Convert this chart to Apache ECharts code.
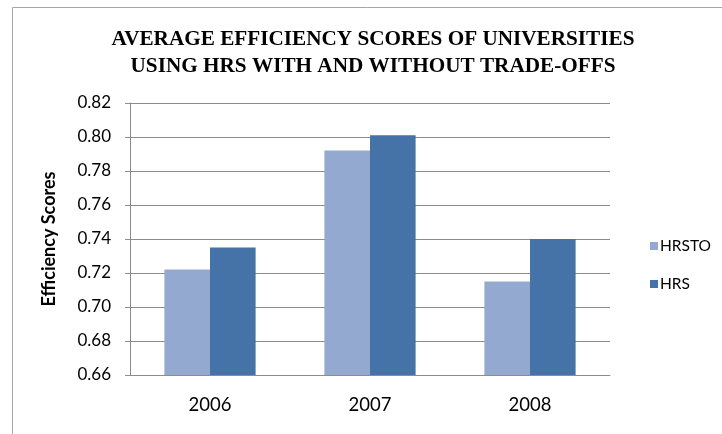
<!DOCTYPE html>
<html>
<head>
<meta charset="utf-8">
<script src="https://cdn.jsdelivr.net/npm/echarts@6/dist/echarts.min.js"></script>
<style>
  html, body { margin: 0; padding: 0; background: #fff; }
  #chart { width: 722px; height: 434px; }
</style>
</head>
<body>
<div id="chart"></div>
<script>
// Average efficiency scores per year, with and without trade-offs
const years = ['2006', '2007', '2008'];
const hrstoScores = [0.722, 0.792, 0.715];
const hrsScores = [0.735, 0.801, 0.740];
const seriesNames = ['HRSTO', 'HRS'];
const titleLines = ['AVERAGE EFFICIENCY SCORES OF UNIVERSITIES', 'USING HRS WITH AND WITHOUT TRADE-OFFS'];

const chart = echarts.init(document.getElementById('chart'), null, { renderer: 'canvas' });

const option = {
  animation: false,
  backgroundColor: '#ffffff',
  graphic: [
    {
      type: 'rect',
      silent: true,
      shape: { x: 12.5, y: 7.5, width: 900, height: 900 },
      style: { fill: 'none', stroke: '#a6a6a6', lineWidth: 1 }
    },
    {
      type: 'text',
      silent: true,
      x: 373,
      y: 26,
      scaleX: 1.01,
      style: {
        text: titleLines.join('\n'),
        font: 'bold 21px "Liberation Serif"',
        lineHeight: 27,
        fill: '#000000',
        textAlign: 'center',
        textVerticalAlign: 'top'
      }
    }
  ],
  legend: {
    orient: 'vertical',
    left: 645,
    top: 233,
    itemWidth: 8,
    itemHeight: 8,
    itemGap: 22,
    icon: 'rect',
    textStyle: { fontFamily: 'Lato', fontSize: 15.5, color: '#000', padding: [0, 0, 0, -3] },
    data: seriesNames
  },
  grid: { left: 130, right: 112, top: 103, bottom: 59 },
  xAxis: {
    type: 'category',
    data: years,
    axisLine: { show: true, lineStyle: { color: '#8c8c8c', width: 1 } },
    axisTick: { show: false },
    axisLabel: { margin: 21, fontFamily: 'Lato', fontSize: 18.5, color: '#000' }
  },
  yAxis: {
    type: 'value',
    min: 0.66,
    max: 0.82,
    interval: 0.02,
    name: 'Efficiency Scores',
    nameLocation: 'middle',
    nameRotate: 90,
    nameGap: 72,
    nameTextStyle: { fontFamily: 'Lato', fontWeight: 'bold', fontSize: 18, color: '#000' },
    axisLine: { show: true, lineStyle: { color: '#8c8c8c', width: 1 } },
    axisTick: { show: true, length: 5, lineStyle: { color: '#8c8c8c' } },
    axisLabel: {
      margin: 19,
      fontFamily: 'Lato',
      fontSize: 17,
      color: '#000',
      formatter: v => v.toFixed(2)
    },
    splitLine: { show: true, lineStyle: { color: '#8c8c8c', width: 1 } }
  },
  series: [
    {
      name: seriesNames[0],
      type: 'bar',
      data: hrstoScores,
      barGap: '0%',
      barCategoryGap: '43%',
      itemStyle: { color: '#93a9cf' }
    },
    {
      name: seriesNames[1],
      type: 'bar',
      data: hrsScores,
      barGap: '0%',
      barCategoryGap: '43%',
      itemStyle: { color: '#4572a7' }
    }
  ]
};

chart.setOption(option);
</script>
</body>
</html>
